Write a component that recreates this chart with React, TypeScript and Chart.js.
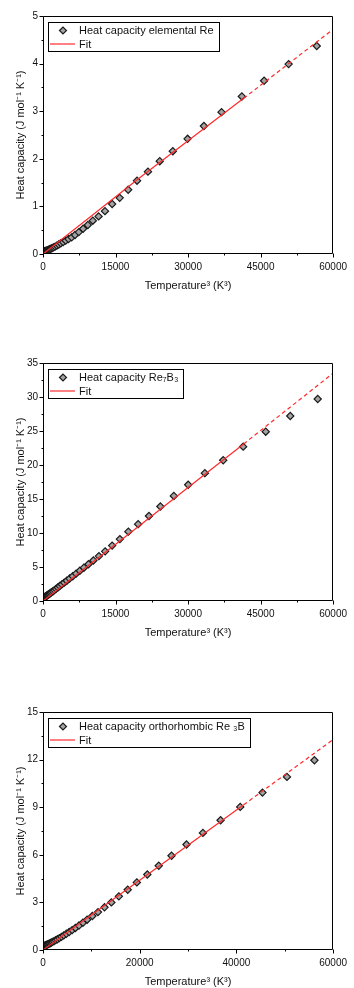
import React, { useEffect, useRef } from "react";
import { Chart, registerables } from "chart.js";

Chart.register(...registerables);

const FONT = "'Liberation Sans', Arial, Helvetica, sans-serif";
const RED = "#ff2a2a";

const xTitle = "Temperature³ (K³)";
const yTitle = "Heat capacity (J mol⁻¹ K⁻¹)";

// ---- Panel 1: elemental Re ----
const reLabel = "Heat capacity elemental Re";
const reX = [30, 60, 100, 140, 200, 270, 350, 450, 560, 690, 840, 1000, 1190, 1400, 1630, 1890, 2180, 2500, 2860, 3250, 3690, 4170, 4700, 5280, 5920, 6620, 7400, 8290, 9270, 10300, 11500, 12820, 14300, 15860, 17620, 19450, 21710, 24150, 26850, 29900, 33280, 36930, 41130, 45730, 50800, 56620];
const reY = [0.036, 0.04, 0.044, 0.047, 0.05, 0.054, 0.057, 0.06, 0.065, 0.07, 0.075, 0.082, 0.09, 0.1, 0.11, 0.125, 0.14, 0.155, 0.175, 0.2, 0.225, 0.25, 0.28, 0.315, 0.35, 0.4, 0.46, 0.53, 0.61, 0.7, 0.79, 0.9, 1.05, 1.18, 1.35, 1.54, 1.73, 1.95, 2.16, 2.42, 2.69, 2.98, 3.31, 3.64, 3.99, 4.37];
const reFitX = [0, 10000, 20000, 30000, 41500];
const reFitY = [0, 0.8, 1.6, 2.38, 3.27];
const reExtX = [41500, 60000];
const reExtY = [3.27, 4.72];
const reXTicks = [0, 15000, 30000, 45000, 60000];
const reYTicks = [0, 1, 2, 3, 4, 5];

// ---- Panel 2: Re7B3 ----
const r7Label = "Heat capacity Re₇B₃";
const r7X = [50, 90, 140, 200, 270, 350, 450, 560, 680, 820, 980, 1150, 1340, 1560, 1800, 2070, 2370, 2700, 3060, 3460, 3900, 4390, 4920, 5500, 6150, 6850, 7620, 8460, 9400, 10420, 11560, 12850, 14300, 15900, 17660, 19680, 21920, 24280, 27060, 30030, 33480, 37270, 41400, 46070, 51140, 56820];
const r7Y = [0.41, 0.44, 0.47, 0.5, 0.53, 0.57, 0.62, 0.67, 0.73, 0.8, 0.88, 0.96, 1.06, 1.17, 1.3, 1.44, 1.6, 1.78, 1.98, 2.2, 2.44, 2.7, 2.98, 3.3, 3.64, 4.02, 4.45, 4.9, 5.4, 5.95, 6.6, 7.3, 8.15, 9.1, 10.2, 11.3, 12.5, 13.9, 15.45, 17.1, 18.8, 20.7, 22.7, 24.9, 27.2, 29.7];
const r7FitX = [0, 10000, 20000, 30000, 41500];
const r7FitY = [0, 5.55, 11.1, 16.7, 23.1];
const r7ExtX = [41500, 60000];
const r7ExtY = [23.1, 33.5];
const r7XTicks = [0, 15000, 30000, 45000, 60000];
const r7YTicks = [0, 5, 10, 15, 20, 25, 30, 35];

// ---- Panel 3: orthorhombic Re3B ----
const r3Label = "Heat capacity orthorhombic Re ₃B";
const r3X = [35, 70, 110, 160, 230, 310, 400, 500, 620, 750, 900, 1070, 1260, 1480, 1720, 1990, 2290, 2620, 2980, 3380, 3820, 4300, 4830, 5400, 6020, 6700, 7440, 8250, 9130, 10210, 11370, 12720, 14140, 15690, 17520, 19410, 21580, 23940, 26580, 29680, 33080, 36730, 40790, 45390, 50460, 56140];
const r3Y = [0.19, 0.2, 0.21, 0.22, 0.235, 0.25, 0.265, 0.28, 0.3, 0.32, 0.345, 0.37, 0.4, 0.43, 0.47, 0.51, 0.56, 0.62, 0.68, 0.75, 0.83, 0.92, 1.02, 1.13, 1.25, 1.39, 1.54, 1.72, 1.91, 2.14, 2.39, 2.69, 3.0, 3.38, 3.8, 4.26, 4.76, 5.31, 5.94, 6.65, 7.38, 8.18, 9.02, 9.92, 10.91, 11.96];
const r3FitX = [0, 10000, 20000, 30000, 41500];
const r3FitY = [0, 2.2, 4.4, 6.6, 9.15];
const r3ExtX = [41500, 60000];
const r3ExtY = [9.15, 13.26];
const r3XTicks = [0, 20000, 40000, 60000];
const r3YTicks = [0, 3, 6, 9, 12, 15];

const fitLabel = "Fit";

type PanelProps = {
  top: number;
  label: string;
  xs: number[];
  ys: number[];
  fitX: number[];
  fitY: number[];
  extX: number[];
  extY: number[];
  xTicks: number[];
  yTicks: number[];
};

const toPts = (xs: number[], ys: number[]) => xs.map((x, i) => ({ x, y: ys[i] }));

function drawDiamond(ctx: CanvasRenderingContext2D, x: number, y: number, r: number) {
  ctx.beginPath();
  ctx.moveTo(x - r, y);
  ctx.lineTo(x, y - r);
  ctx.lineTo(x + r, y);
  ctx.lineTo(x, y + r);
  ctx.closePath();
  ctx.fillStyle = "#a3a3a3";
  ctx.fill();
  ctx.strokeStyle = "#1a1a1a";
  ctx.lineWidth = 1.2;
  ctx.stroke();
}

function Panel(props: PanelProps) {
  const ref = useRef<HTMLCanvasElement | null>(null);
  useEffect(() => {
    if (!ref.current) return;
    const { label, xs, ys, fitX, fitY, extX, extY, xTicks, yTicks } = props;

    const frameTicks = {
      id: "frameTicks",
      afterDraw(chart: any) {
        const { ctx, chartArea: a, scales } = chart;
        const sx = scales.x;
        const sy = scales.y;
        ctx.save();
        ctx.strokeStyle = "#000";
        ctx.lineWidth = 1;
        const L = Math.round(a.left) + 0.5;
        const R = Math.round(a.right) - 0.5;
        const T = Math.round(a.top) + 0.5;
        const B = Math.round(a.bottom) - 0.5;
        ctx.beginPath();
        ctx.rect(L, T, R - L, B - T);
        ctx.stroke();
        const drawTicks = (ticks: number[], horiz: boolean) => {
          const vals: { v: number; major: boolean }[] = [];
          for (let i = 0; i < ticks.length; i++) {
            vals.push({ v: ticks[i], major: true });
            if (i < ticks.length - 1) vals.push({ v: (ticks[i] + ticks[i + 1]) / 2, major: false });
          }
          ctx.beginPath();
          for (const t of vals) {
            const len = t.major ? 4 : 2;
            if (horiz) {
              const p = Math.round(sx.getPixelForValue(t.v)) + 0.5;
              ctx.moveTo(p, B);
              ctx.lineTo(p, B + len);
            } else {
              const p = Math.round(sy.getPixelForValue(t.v)) + 0.5;
              ctx.moveTo(L, p);
              ctx.lineTo(L - len, p);
            }
          }
          ctx.stroke();
        };
        drawTicks(xTicks, true);
        drawTicks(yTicks, false);
        ctx.restore();
      },
    };

    const boxLegend = {
      id: "boxLegend",
      afterDraw(chart: any) {
        const { ctx, chartArea: a } = chart;
        ctx.save();
        ctx.font = `11px ${FONT}`;
        const left = Math.round(a.left) + 5;
        const top = Math.round(a.top) + 6;
        const tx = left + 31;
        const tw = Math.max(ctx.measureText(label).width, ctx.measureText(fitLabel).width);
        const w = Math.round(31 + tw + 5);
        const h = 29;
        ctx.fillStyle = "#fff";
        ctx.fillRect(left, top, w, h);
        ctx.strokeStyle = "#000";
        ctx.lineWidth = 1;
        ctx.strokeRect(left + 0.5, top + 0.5, w, h);
        drawDiamond(ctx, left + 15, top + 8.5, 3.5);
        ctx.strokeStyle = RED;
        ctx.lineWidth = 1.2;
        ctx.beginPath();
        ctx.moveTo(left + 2, top + 22);
        ctx.lineTo(left + 27, top + 22);
        ctx.stroke();
        ctx.fillStyle = "#111";
        ctx.textBaseline = "middle";
        ctx.textAlign = "left";
        ctx.fillText(label, tx, top + 9);
        ctx.fillText(fitLabel, tx, top + 22.5);
        ctx.restore();
      },
    };

    const chart = new Chart(ref.current, {
      type: "scatter",
      data: {
        datasets: [
          {
            label: fitLabel,
            data: toPts(fitX, fitY),
            showLine: true,
            borderColor: RED,
            borderWidth: 1.2,
            pointRadius: 0,
            order: 0,
          },
          {
            label: fitLabel + " extrapolated",
            data: toPts(extX, extY),
            showLine: true,
            borderColor: RED,
            borderWidth: 1.2,
            borderDash: [4, 3],
            pointRadius: 0,
            order: 0,
          },
          {
            label,
            data: toPts(xs, ys),
            showLine: false,
            pointStyle: "rectRot",
            pointRadius: 3.6,
            backgroundColor: "#a3a3a3",
            borderColor: "#1a1a1a",
            borderWidth: 1.2,
            order: 1,
          },
        ],
      },
      options: {
        responsive: false,
        animation: false,
        devicePixelRatio: 1,
        layout: { padding: { top: 16, right: 15, left: 0, bottom: 0 } },
        plugins: { legend: { display: false }, tooltip: { enabled: false } },
        scales: {
          x: {
            type: "linear",
            min: xTicks[0],
            max: xTicks[xTicks.length - 1],
            afterBuildTicks: (s: any) => {
              s.ticks = xTicks.map((v) => ({ value: v }));
            },
            afterFit: (s: any) => {
              s.height = 46;
            },
            grid: { display: false, drawTicks: false },
            border: { display: false },
            ticks: {
              padding: 7,
              color: "#111",
              font: { family: FONT, size: 10 },
              maxRotation: 0,
              callback: (v: any) => String(v),
            },
            title: {
              display: true,
              text: xTitle,
              color: "#111",
              font: { family: FONT, size: 11 },
              padding: { top: 7, bottom: 7 },
            },
          },
          y: {
            type: "linear",
            min: yTicks[0],
            max: yTicks[yTicks.length - 1],
            afterBuildTicks: (s: any) => {
              s.ticks = yTicks.map((v) => ({ value: v }));
            },
            afterFit: (s: any) => {
              s.width = 43;
            },
            grid: { display: false, drawTicks: false },
            border: { display: false },
            ticks: {
              padding: 5,
              color: "#111",
              font: { family: FONT, size: 10 },
              callback: (v: any) => String(v),
            },
            title: {
              display: true,
              text: yTitle,
              color: "#111",
              font: { family: FONT, size: 11 },
              padding: { top: 14, bottom: 14 },
            },
          },
        },
      },
      plugins: [frameTicks, boxLegend],
    } as any);
    return () => chart.destroy();
  }, []);

  return (
    <div style={{ position: "absolute", left: 0, top: props.top, width: 354, height: 300 }}>
      <canvas ref={ref} width={354} height={300} style={{ display: "block", width: 354, height: 300 }} />
    </div>
  );
}

export default function App() {
  return (
    <div
      style={{
        position: "absolute",
        left: 0,
        top: 0,
        width: 354,
        height: 988,
        overflow: "hidden",
        background: "#fff",
      }}
    >
      <Panel top={0} label={reLabel} xs={reX} ys={reY} fitX={reFitX} fitY={reFitY} extX={reExtX} extY={reExtY} xTicks={reXTicks} yTicks={reYTicks} />
      <Panel top={347} label={r7Label} xs={r7X} ys={r7Y} fitX={r7FitX} fitY={r7FitY} extX={r7ExtX} extY={r7ExtY} xTicks={r7XTicks} yTicks={r7YTicks} />
      <Panel top={696} label={r3Label} xs={r3X} ys={r3Y} fitX={r3FitX} fitY={r3FitY} extX={r3ExtX} extY={r3ExtY} xTicks={r3XTicks} yTicks={r3YTicks} />
    </div>
  );
}
